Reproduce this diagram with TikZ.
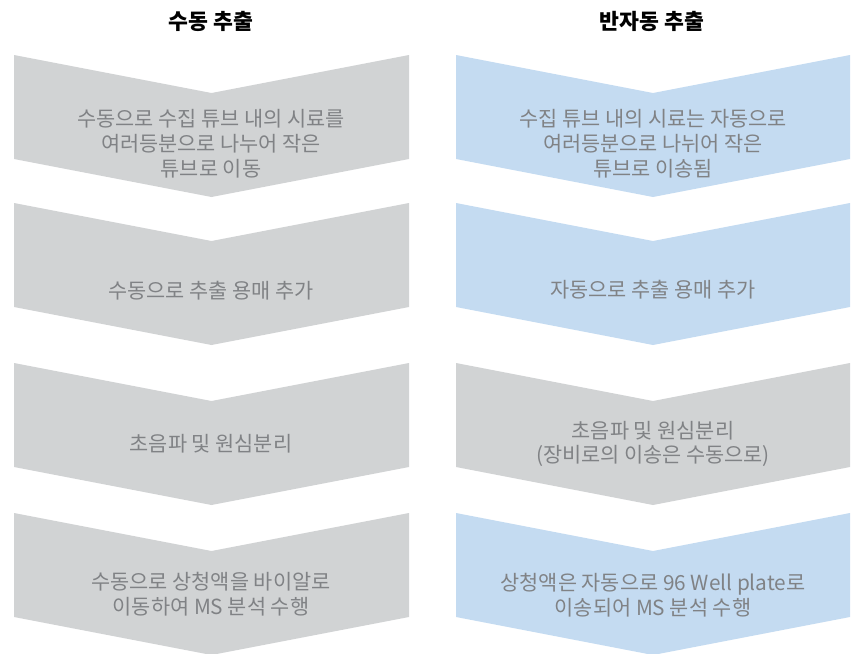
\documentclass[tikz,border=0pt]{standalone}
\usepackage{fontspec}
\setmainfont{Noto Sans CJK KR}
\definecolor{chgray}{HTML}{D1D3D4}
\definecolor{chblue}{HTML}{C4DBF1}
\definecolor{txtgray}{HTML}{808285}
\newcommand\mychev[4]{% x0, x1, top, fill colour
  \fill[#4] (#1,#3) -- ({(#1+#2)/2},#3+38) -- (#2,#3) -- (#2,#3+104) -- ({(#1+#2)/2},#3+142) -- (#1,#3+104) -- cycle;
}
\tikzset{
  steptext/.style={text=txtgray, align=center, font=\fontsize{15.6pt}{18.6pt}\selectfont, inner sep=0pt},
  coltitle/.style={text=black, font=\fontsize{16.2pt}{18pt}\selectfont\bfseries, inner sep=0pt}
}
\begin{document}
\begin{tikzpicture}[x=0.75pt,y=-0.75pt]
\useasboundingbox (0,0) rectangle (851,654);
% left column
\mychev{14}{409}{55}{chgray}
\mychev{14}{409}{203}{chgray}
\mychev{14}{409}{363}{chgray}
\mychev{14}{409}{513}{chgray}
% right column
\mychev{456}{850}{55}{chblue}
\mychev{456}{850}{203}{chblue}
\mychev{456}{850}{363}{chgray}
\mychev{456}{850}{513}{chblue}
% titles
\node[coltitle] (tl) at (211,21) {수동 추출};
\node[coltitle] (tr) at (652,21) {반자동 추출};
% left texts
\node[steptext] (l1) at (211,144) {수동으로 수집 튜브 내의 시료를\\여러등분으로 나누어 작은\\튜브로 이동};
\node[steptext] (l2) at (211,291) {수동으로 추출 용매 추가};
\node[steptext] (l3) at (211,444) {초음파 및 원심분리};
\node[steptext] (l4) at (211,594) {수동으로 상청액을 바이알로\\이동하여 MS 분석 수행};
% right texts
\node[steptext] (r1) at (653,144) {수집 튜브 내의 시료는 자동으로\\여러등분으로 나뉘어 작은\\튜브로 이송됨};
\node[steptext] (r2) at (653,290) {자동으로 추출 용매 추가};
\node[steptext] (r3) at (653,444) {초음파 및 원심분리\\(장비로의 이송은 수동으로)};
\node[steptext] (r4) at (653,595) {상청액은 자동으로 96 Well plate로\\이송되어 MS 분석 수행};
\end{tikzpicture}
\end{document}
